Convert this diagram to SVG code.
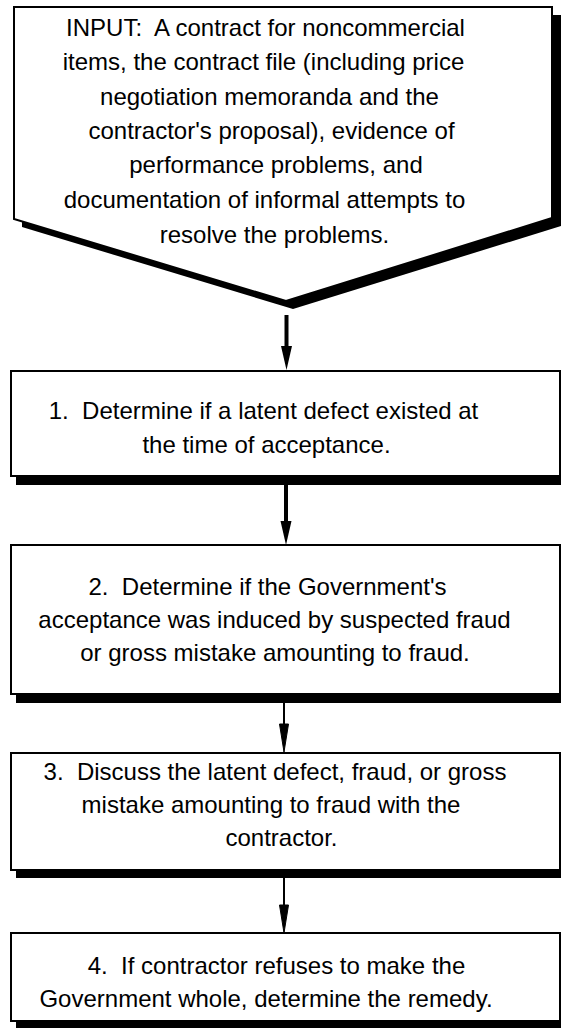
<svg xmlns="http://www.w3.org/2000/svg" width="561" height="1028" viewBox="0 0 561 1028">
<defs>
<style>
.t{font-family:"Liberation Sans",Arial,sans-serif;font-size:24px;fill:#000;text-anchor:middle;white-space:pre}
.box{fill:#fff;stroke:#000;stroke-width:2}
.sh{fill:#000}
.thick{stroke:#000;stroke-width:4;fill:none}
.thin{stroke:#000;stroke-width:2;fill:none}
</style>
<marker id="hThick" markerUnits="userSpaceOnUse" markerWidth="24" markerHeight="12" refX="0" refY="6" orient="auto" overflow="visible">
<path d="M0,0.5 L24,6 L0,11.5 z" fill="#000"/>
</marker>
<marker id="hThin" markerUnits="userSpaceOnUse" markerWidth="28" markerHeight="10" refX="0" refY="5" orient="auto" overflow="visible">
<path d="M0,0.5 L28,5 L0,9.5 z" fill="#000" stroke="#000" stroke-width="1"/>
</marker>
</defs>
<rect width="561" height="1028" fill="#fff"/>

<g id="input">
<polygon class="sh" points="22,15 561,15 561,226 293,309 22,227"/>
<polygon class="box" points="14,7 552,7 552,218 286,301 14,219"/>
<text class="t" xml:space="preserve" x="265.5" y="36">INPUT:  A contract for noncommercial</text>
<text class="t" x="263.5" y="70">items, the contract file (including price</text>
<text class="t" x="269.5" y="105">negotiation memoranda and the</text>
<text class="t" x="271.5" y="139">contractor's proposal), evidence of</text>
<text class="t" x="276" y="173">performance problems, and</text>
<text class="t" x="264.5" y="208">documentation of informal attempts to</text>
<text class="t" x="274.5" y="243">resolve the problems.</text>
</g>

<g id="step1">
<rect class="sh" x="16" y="379" width="549" height="106"/>
<rect class="box" x="11" y="371" width="549" height="105"/>
<text class="t" xml:space="preserve" x="263.5" y="419">1.  Determine if a latent defect existed at</text>
<text class="t" x="266.5" y="453">the time of acceptance.</text>
</g>

<g id="step2">
<rect class="sh" x="16" y="554" width="549" height="149"/>
<rect class="box" x="11" y="545" width="549" height="149"/>
<text class="t" xml:space="preserve" x="267.5" y="595">2.  Determine if the Government's</text>
<text class="t" x="274.5" y="628">acceptance was induced by suspected fraud</text>
<text class="t" x="275" y="661">or gross mistake amounting to fraud.</text>
</g>

<g id="step3">
<rect class="sh" x="16" y="761" width="549" height="117"/>
<rect class="box" x="11" y="753" width="549" height="117"/>
<text class="t" xml:space="preserve" x="275" y="780">3.  Discuss the latent defect, fraud, or gross</text>
<text class="t" x="271" y="813">mistake amounting to fraud with the</text>
<text class="t" x="281.5" y="846">contractor.</text>
</g>

<g id="step4">
<rect class="sh" x="16" y="942" width="549" height="95"/>
<rect class="box" x="11" y="933" width="549" height="88"/>
<text class="t" xml:space="preserve" x="276.5" y="974">4.  If contractor refuses to make the</text>
<text class="t" x="266" y="1007">Government whole, determine the remedy.</text>
</g>

<g id="connectors">
<line class="thick" x1="286.5" y1="315" x2="286.5" y2="346" marker-end="url(#hThick)"/>
<line class="thick" x1="286" y1="485" x2="286" y2="521" marker-end="url(#hThick)"/>
<line class="thin" x1="284" y1="703" x2="284" y2="724" marker-end="url(#hThin)"/>
<line class="thin" x1="284" y1="878" x2="284" y2="905" marker-end="url(#hThin)"/>
</g>
</svg>
